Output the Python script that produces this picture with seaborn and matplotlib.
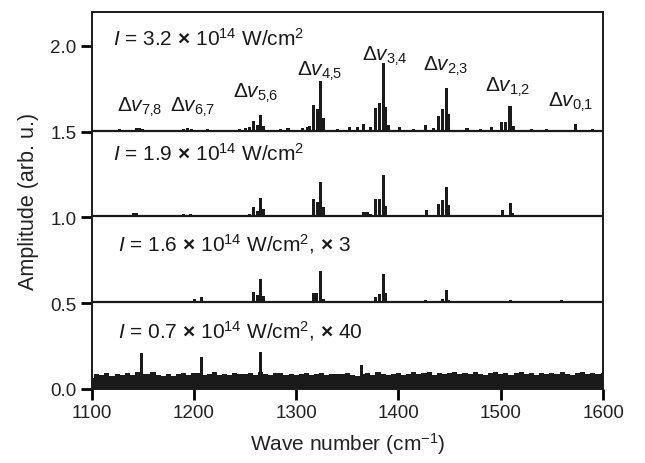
import matplotlib
matplotlib.use("Agg")
import matplotlib.pyplot as plt
import seaborn as sns

# trace offsets (arb. u.)
offsets = [1.5, 1.0, 0.5, 0.0]
labels = [r"$\mathit{I}$ = 3.2 $\mathbf{×}$ 10$^{14}$ W/cm$^{2}$",
          r"$\mathit{I}$ = 1.9 $\mathbf{×}$ 10$^{14}$ W/cm$^{2}$",
          r"$\mathit{I}$ = 1.6 $\mathbf{×}$ 10$^{14}$ W/cm$^{2}$, $\mathbf{×}$ 3",
          r"$\mathit{I}$ = 0.7 $\mathbf{×}$ 10$^{14}$ W/cm$^{2}$, $\mathbf{×}$ 40"]
label_x = [1121, 1121, 1126, 1126]
label_y = [2.005, 1.335, 0.81, 0.30]

# I = 3.2e14
s1_x = [1127, 1144, 1147, 1150, 1190, 1194, 1198, 1213, 1232,
        1244.5, 1250, 1254, 1258, 1262, 1265, 1268.2,
        1285, 1292, 1306, 1311, 1313,
        1317.1, 1321.2, 1324.1, 1326.9,
        1340, 1352, 1360,
        1366, 1372.4, 1377.8, 1381.3, 1385, 1387.6, 1389.8,
        1401, 1415,
        1426.2, 1434, 1438.7, 1442.8, 1446.5, 1449,
        1467, 1480, 1491.2,
        1500.6, 1504.3, 1509, 1512.1,
        1530, 1545, 1573, 1590]
s1_h = [0.018, 0.022, 0.020, 0.015, 0.018, 0.022, 0.016, 0.014, 0.012,
        0.018, 0.022, 0.026, 0.060, 0.040, 0.098, 0.030,
        0.014, 0.020, 0.022, 0.028, 0.030,
        0.155, 0.132, 0.298, 0.078,
        0.014, 0.028, 0.028,
        0.046, 0.026, 0.138, 0.164, 0.400, 0.141, 0.036,
        0.025, 0.014,
        0.036, 0.023, 0.094, 0.134, 0.257, 0.100,
        0.023, 0.014, 0.028,
        0.059, 0.059, 0.151, 0.032,
        0.014, 0.016, 0.045, 0.014]

# I = 1.9e14
s2_x = [1108, 1140.8, 1144, 1189.6, 1197, 1203, 1210, 1236,
        1254, 1258, 1261.8, 1265, 1268.2,
        1290, 1310,
        1317.1, 1321.2, 1324.1, 1326.9,
        1345, 1360,
        1366, 1369.2, 1373, 1377.8, 1381.3, 1385, 1387.6,
        1400, 1420,
        1427.6, 1439, 1443, 1446.5, 1448.8,
        1470,
        1502, 1509.1, 1511.4,
        1559.7, 1578]
s2_h = [0.012, 0.028, 0.024, 0.020, 0.018, 0.016, 0.015, 0.012,
        0.021, 0.063, 0.040, 0.116, 0.050,
        0.012, 0.016,
        0.106, 0.088, 0.209, 0.059,
        0.012, 0.014,
        0.029, 0.029, 0.020, 0.105, 0.105, 0.248, 0.069,
        0.016, 0.012,
        0.045, 0.080, 0.103, 0.175, 0.070,
        0.012,
        0.045, 0.084, 0.025,
        0.016, 0.012]

# I = 1.6e14, x3
s3_x = [1144, 1170, 1201, 1207.6, 1240,
        1258, 1261.8, 1265, 1268.2,
        1317.1, 1320.2, 1324.1, 1326.9,
        1345, 1360,
        1377.8, 1381.3, 1385, 1387.6,
        1426, 1440,
        1443, 1446.5, 1448.8,
        1492.8, 1509.1, 1559.7, 1585]
s3_h = [0.014, 0.010, 0.022, 0.036, 0.010,
        0.065, 0.048, 0.143, 0.042,
        0.057, 0.061, 0.187, 0.026,
        0.010, 0.012,
        0.036, 0.051, 0.172, 0.061,
        0.016, 0.014,
        0.022, 0.077, 0.020,
        0.014, 0.017, 0.017, 0.010]

# I = 0.7e14, x40 : noisy floor plus a few lines
s4_noise_x = list(range(1100, 1605, 5))
s4_noise_h = [0.065, 0.088, 0.080, 0.092, 0.078, 0.090, 0.084, 0.095, 0.082, 0.098,
              0.090, 0.086, 0.099, 0.080, 0.077, 0.085, 0.074, 0.088, 0.092, 0.083,
              0.094, 0.096, 0.081, 0.089, 0.097, 0.084, 0.090, 0.079, 0.093, 0.087,
              0.085, 0.091, 0.082, 0.098, 0.088, 0.084, 0.092, 0.096, 0.081, 0.087,
              0.079, 0.086, 0.093, 0.080, 0.088, 0.094, 0.083, 0.090, 0.085, 0.089,
              0.095, 0.083, 0.078, 0.087, 0.091, 0.084, 0.097, 0.090, 0.082, 0.088,
              0.093, 0.081, 0.089, 0.099, 0.086, 0.092, 0.097, 0.084, 0.091, 0.088,
              0.094, 0.100, 0.087, 0.093, 0.085, 0.098, 0.090, 0.083, 0.095, 0.101,
              0.089, 0.096, 0.084, 0.092, 0.099, 0.087, 0.091, 0.082, 0.095, 0.088,
              0.093, 0.085, 0.097, 0.090, 0.083, 0.094, 0.098, 0.086, 0.092, 0.089,
              0.091]
s4_x = [1149, 1207, 1265, 1364]
s4_h = [0.210, 0.184, 0.213, 0.140]

# band assignments (low-9 quote used as comma to avoid math spacing)
band_text = ["7‚8", "6‚7", "5‚6", "4‚5", "3‚4", "2‚3", "1‚2", "0‚1"]
band_x = [1146.6, 1198.8, 1260, 1322.7, 1387, 1445.6, 1506.5, 1568.5]
band_y = [1.624, 1.624, 1.704, 1.834, 1.92, 1.863, 1.739, 1.653]

sns.set_theme(style="ticks")
plt.rcParams["font.family"] = ["Liberation Sans", "DejaVu Sans"]
plt.rcParams["mathtext.fontset"] = "custom"
plt.rcParams["mathtext.rm"] = "Liberation Sans"
plt.rcParams["mathtext.it"] = "Liberation Sans:italic"
plt.rcParams["mathtext.bf"] = "Liberation Sans:bold"
plt.rcParams["mathtext.default"] = "regular"

fig = plt.figure(figsize=(6.45, 4.64), dpi=100)
ax = fig.add_axes([0.142, 0.1595, 0.793, 0.8135])

traces = [(s1_x, s1_h), (s2_x, s2_h), (s3_x, s3_h)]
for off, (xs, hs) in zip(offsets[:3], traces):
    ax.axhline(off + 0.006, color="k", lw=1.6, zorder=2)
    ax.bar(xs, hs, bottom=off, width=3.0, color="k", linewidth=0, zorder=3)

ax.bar(s4_noise_x, s4_noise_h, width=5, color="k", linewidth=0, zorder=3)
ax.bar(s4_x, s4_h, width=3.0, color="k", linewidth=0, zorder=3)

for t, x, y in zip(labels, label_x, label_y):
    ax.text(x, y, t, fontsize=15, ha="left", va="baseline", color="k")

for t, x, y in zip(band_text, band_x, band_y):
    ax.text(x, y, "Δ" + r"$\mathit{v}_{" + t + "}$", fontsize=15,
            ha="center", va="baseline", color="k")

ax.set_xlim(1100, 1600)
ax.set_ylim(0, 2.2)
ax.set_xticks([1100, 1200, 1300, 1400, 1500, 1600])
ax.set_yticks([0.0, 0.5, 1.0, 1.5, 2.0])
ax.set_yticklabels(["0.0", "0.5", "1.0", "1.5", "2.0"])
ax.tick_params(axis="both", which="major", direction="out", length=8, width=2,
               labelsize=13.5, color="black", labelcolor="#222222", pad=3)
for sp in ax.spines.values():
    sp.set_linewidth(1.4)
    sp.set_color("k")

ax.set_xlabel("Wave number (cm$^{-1}$)", fontsize=15, color="#222222", labelpad=6)
ax.set_ylabel("Amplitude (arb. u.)", fontsize=15.5, color="#222222", labelpad=8)

fig.savefig("out.png", dpi=100)
